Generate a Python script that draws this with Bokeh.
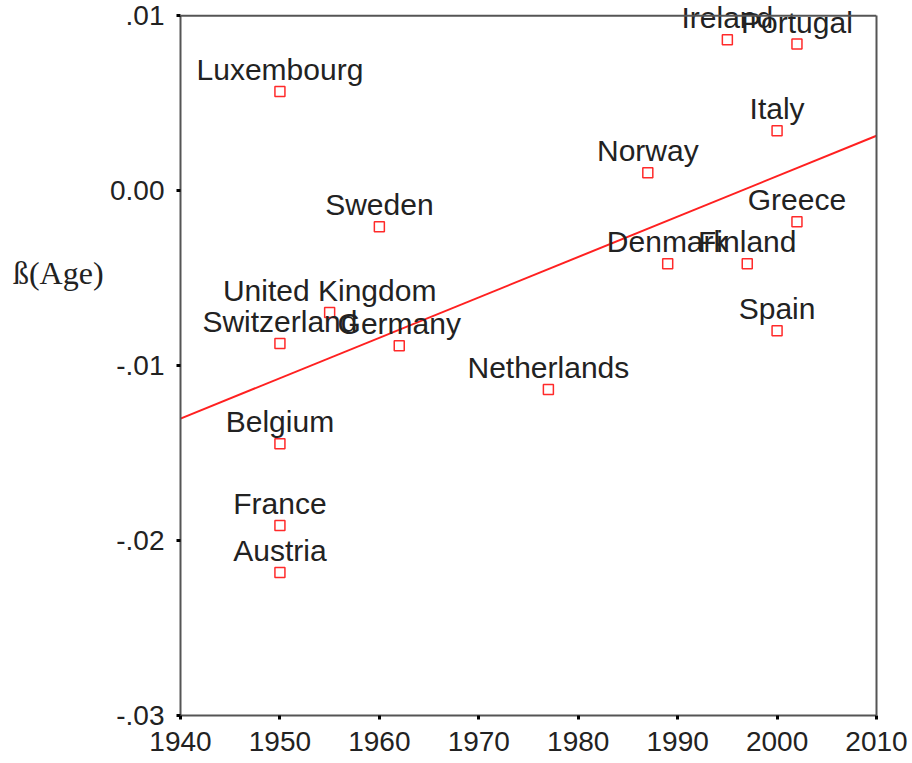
from bokeh.plotting import figure
from bokeh.models import Range1d, FixedTicker, ColumnDataSource, LinearAxis, Span
from bokeh.layouts import row
from bokeh.core.properties import value
from bokeh.embed import file_html
from bokeh.resources import INLINE

countries = ["Luxembourg", "Ireland", "Portugal", "Italy", "Norway", "Greece",
             "Sweden", "Denmark", "Finland", "Spain", "United Kingdom",
             "Switzerland", "Germany", "Netherlands", "Belgium", "France", "Austria"]
years = [1950, 1995, 2002, 2000, 1987, 2002,
         1960, 1989, 1997, 2000, 1955,
         1950, 1962, 1977, 1950, 1950, 1950]
beta_age = [0.00567, 0.00863, 0.00838, 0.00343, 0.00103, -0.00177,
            -0.00206, -0.00417, -0.00417, -0.00800, -0.00697,
            -0.00874, -0.00886, -0.01137, -0.01446, -0.01914, -0.02183]

fit_x = [1940, 2010]
fit_y = [-0.01303, 0.00314]

x_ticks = [1940, 1950, 1960, 1970, 1980, 1990, 2000, 2010]
y_ticks = [-0.03, -0.02, -0.01, 0, 0.01]
y_tick_labels = {-0.03: "-.03", -0.02: "-.02", -0.01: "-.01", 0: "0.00", 0.01: ".01"}

y_title = "ß(Age)"
y_title_pos = (0.54, -0.0047)   # (fraction of side panel width, data y)

AX = "#555555"

src = ColumnDataSource(data=dict(x=years, y=beta_age, name=countries))
yr = Range1d(-0.03, 0.0107)

p = figure(frame_width=696, frame_height=712,
           min_border_left=70, min_border_right=36, min_border_top=3, min_border_bottom=48,
           x_range=Range1d(1940, 2010), y_range=yr,
           output_backend="svg", toolbar_location=None, tools="")

p.background_fill_color = "white"
p.border_fill_color = "white"
p.outline_line_color = None
p.xgrid.visible = False
p.ygrid.visible = False

for ax in (p.xaxis[0], p.yaxis[0]):
    ax.axis_line_color = AX
    ax.axis_line_width = 2
    ax.major_tick_line_color = "black"
    ax.major_tick_line_width = 3
    ax.major_tick_out = 4
    ax.major_tick_in = 0
    ax.minor_tick_line_color = None
    ax.major_label_text_font = "Liberation Sans"
    ax.major_label_text_font_size = "28px"
    ax.major_label_text_color = "#222222"

p.xaxis.ticker = FixedTicker(ticks=x_ticks)
p.yaxis.ticker = FixedTicker(ticks=y_ticks)
p.yaxis.bounds = (y_ticks[0], y_ticks[-1])
p.yaxis.major_label_overrides = y_tick_labels
p.xaxis.major_label_standoff = 12
p.yaxis.major_label_standoff = 12

# right frame side
rax = LinearAxis(bounds=(y_ticks[0], y_ticks[-1]), ticker=FixedTicker(ticks=[]),
                 axis_line_color=AX, axis_line_width=2,
                 major_tick_line_color=None, minor_tick_line_color=None,
                 major_label_text_font_size="0px")
p.add_layout(rax, "right")
# top frame side
p.add_layout(Span(location=y_ticks[-1], dimension="width", line_color=AX, line_width=2))

p.line(fit_x, fit_y, line_color="#ff2020", line_width=2)

p.scatter("x", "y", source=src, marker="square", size=10,
          fill_color="white", line_color="#ff2a2a", line_width=1.5)

p.text("x", "y", text="name", source=src, y_offset=-22,
       text_align="center", text_baseline="alphabetic",
       text_font=value("Liberation Sans"), text_font_size="30px",
       text_color="#222222")

# side panel carrying the horizontal y-axis title
side = figure(width=107, frame_height=712, min_border_left=0, min_border_right=0,
              min_border_top=3, min_border_bottom=48,
              x_range=Range1d(0, 1), y_range=yr,
              x_axis_location=None, y_axis_location=None,
              output_backend="svg", toolbar_location=None, tools="")
side.outline_line_color = None
side.xgrid.visible = False
side.ygrid.visible = False
side.border_fill_color = "white"
side.text(x=[y_title_pos[0]], y=[y_title_pos[1]], text=[y_title],
          text_align="center", text_baseline="middle",
          text_font=value("Liberation Serif"), text_font_size="32px",
          text_color="#222222")

layout = row(side, p, spacing=0)
open("out.html", "w").write(file_html(layout, INLINE))
